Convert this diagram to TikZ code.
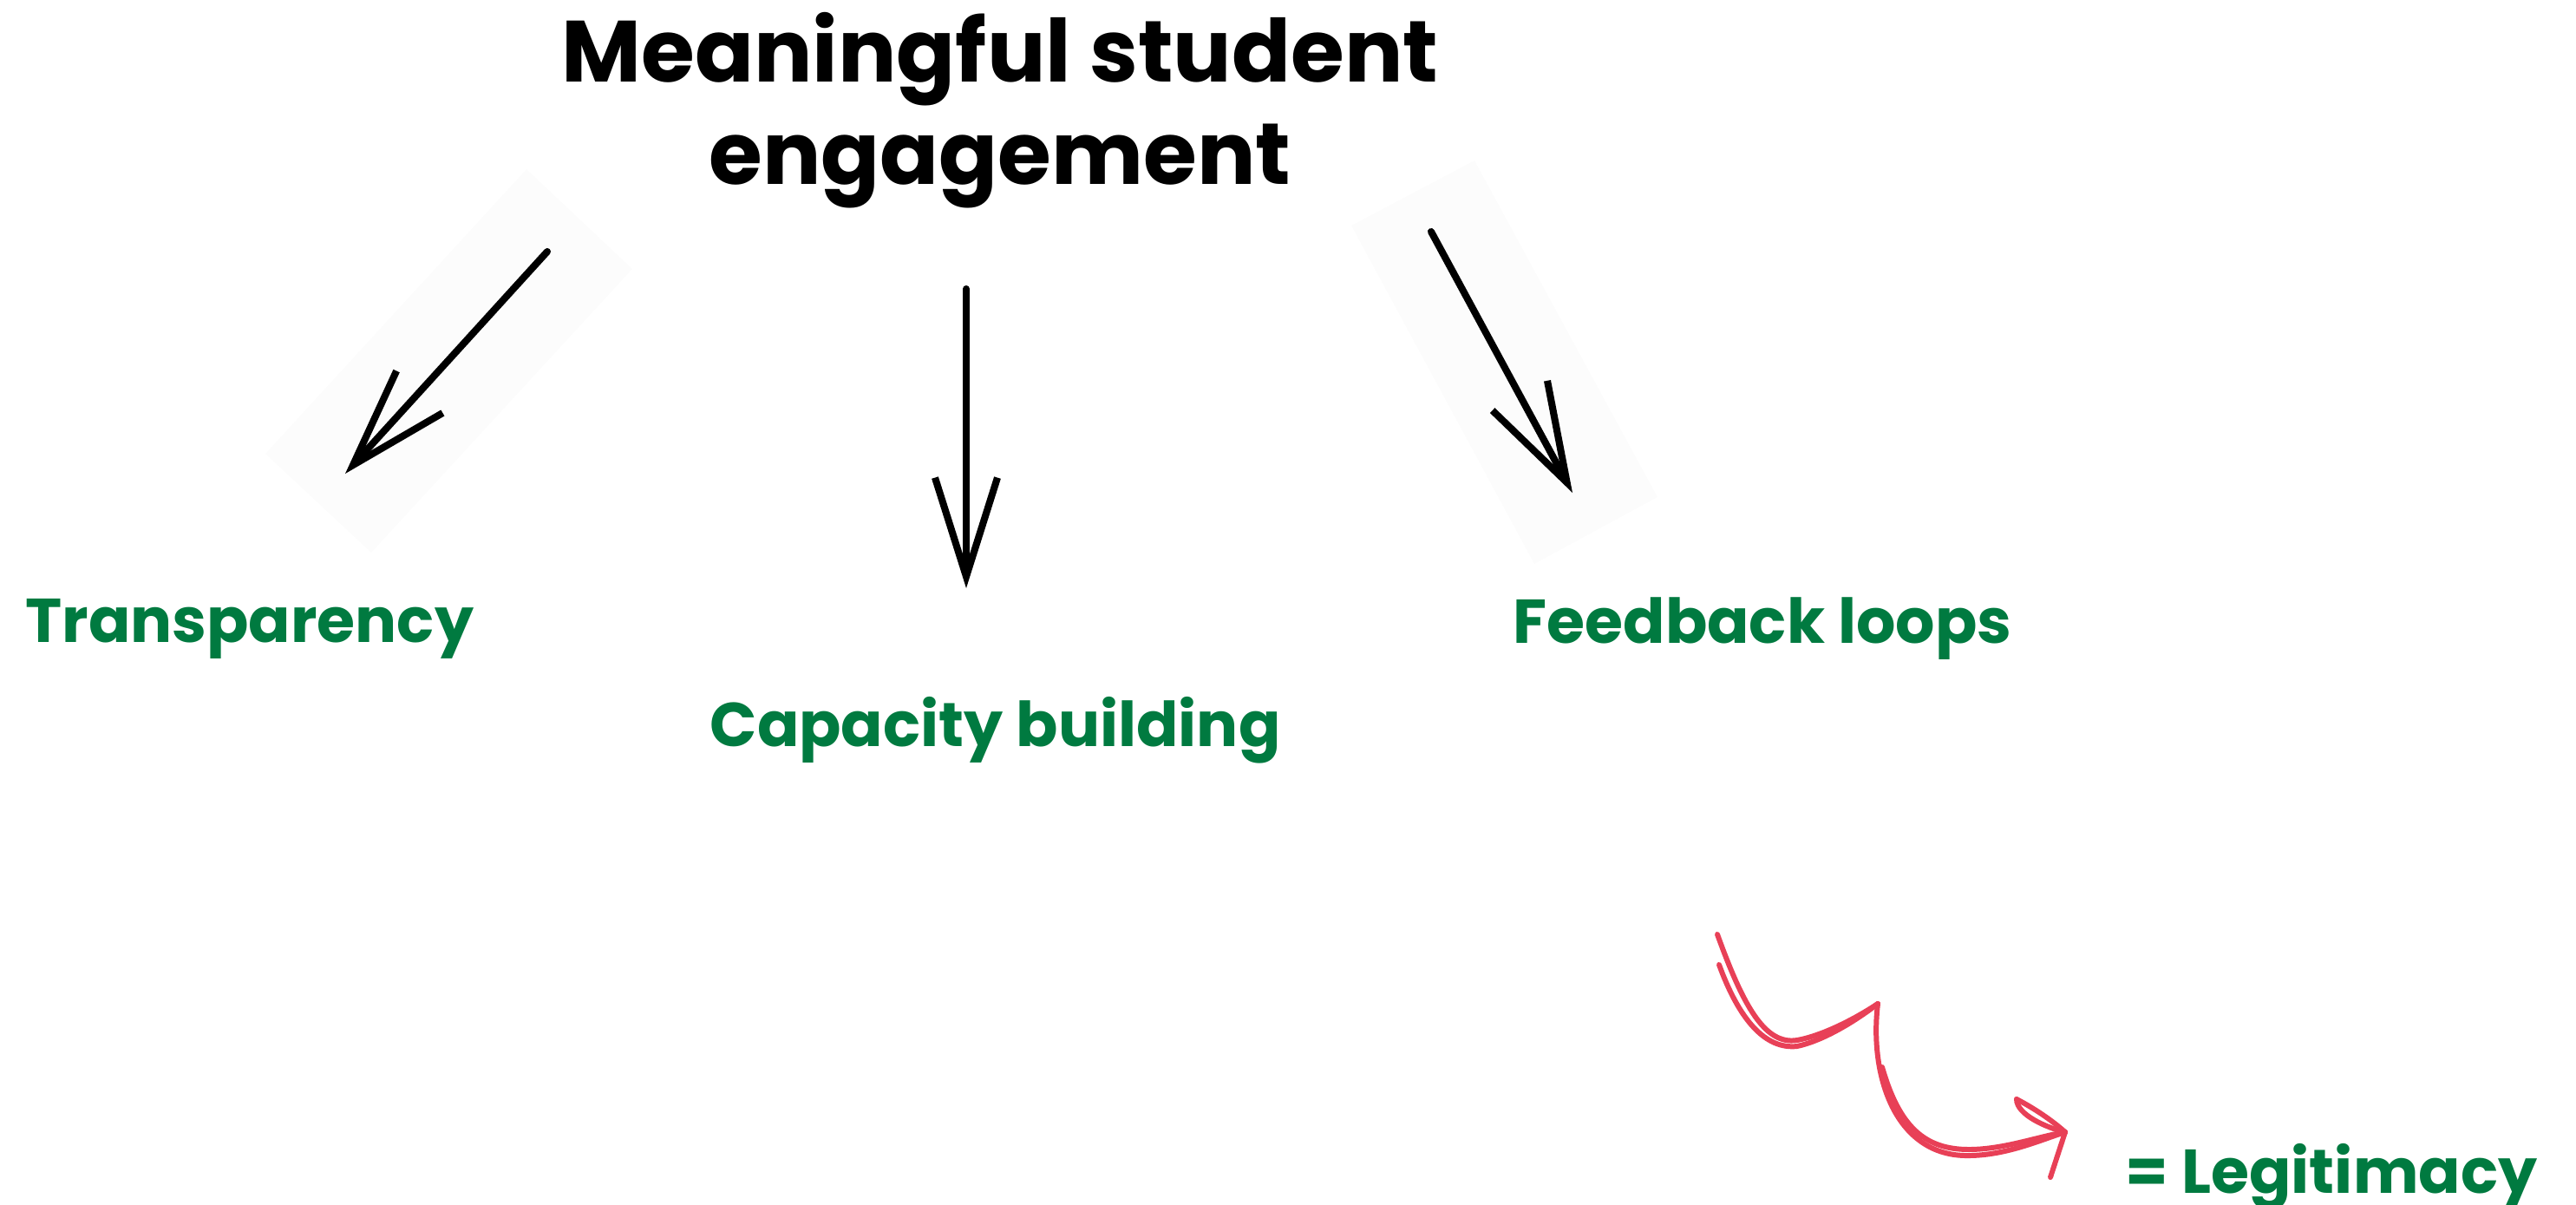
\documentclass[tikz,border=0pt]{standalone}
\usepackage{fontspec}
\setmainfont{Poppins}
\usepackage{xcolor}
\usepackage{tikz}
\usetikzlibrary{arrows.meta, positioning}

\definecolor{leafgreen}{RGB}{0,122,64}
\definecolor{markerred}{RGB}{232,64,87}

\begin{document}
\begin{tikzpicture}[
	title/.style={font=\fontsize{28.5}{33.4}\selectfont\bfseries, align=center, inner sep=0},
	outcome/.style={font=\fontsize{20.3}{24}\selectfont\bfseries, text=leafgreen, inner sep=0, anchor=base west},
	pointer/.style={-{Straight Barb[length=1.14cm, width=0.72cm]}, line width=2.3pt, line cap=round},
	scribble/.style={draw=markerred, line width=1.7pt, line cap=round}]
	\useasboundingbox (0,0) rectangle (29.70,-13.88);

	% faint patches behind the side arrows
	\fill[black!1] (6.07,-1.95) -- (7.29,-3.10) -- (4.28,-6.37) -- (3.06,-5.23) -- cycle;
	\fill[black!1] (17.00,-1.85) -- (15.58,-2.60) -- (17.69,-6.50) -- (19.11,-5.73) -- cycle;

	\node[title] (engage) at (11.53,-1.27) {Meaningful student\\engagement};

	\node[outcome] (transp) at (0.287,-7.40) {Transparency};
	\node[outcome] (capac) at (8.18,-8.60) {Capacity building};
	\node[outcome] (feedb) at (17.44,-7.41) {Feedback loops};
	\node[outcome] (legit) at (24.50,-13.75) {= Legitimacy};

	% arrow ends
	\coordinate (transpTail) at (6.31,-2.90);
	\coordinate (transpHead) at (3.98,-5.46);
	\coordinate (capacTail) at (11.14,-3.33);
	\coordinate (capacHead) at (11.14,-6.78);
	\coordinate (feedbTail) at (16.50,-2.67);
	\coordinate (feedbHead) at (18.13,-5.68);

	\draw[pointer] (transpTail) -- (transpHead);
	\draw[pointer] (capacTail) -- (capacHead);
	\draw[pointer] (feedbTail) -- (feedbHead);

	% hand drawn red arrow
	\coordinate (cusp) at (21.65,-11.57);
	\coordinate (tip) at (23.81,-13.05);
	\path[scribble] (19.80,-10.77) .. controls (20.10,-11.60) and (20.35,-12.05) .. (20.72,-11.99)
		.. controls (20.95,-11.95) and (21.30,-11.80) .. (cusp);
	\path[scribble] (19.82,-11.12) .. controls (20.05,-11.75) and (20.35,-12.10) .. (20.72,-12.06)
		.. controls (21.00,-12.00) and (21.35,-11.80) .. (cusp);
	\path[scribble] (cusp) .. controls (21.55,-12.40) and (21.85,-13.30) .. (22.65,-13.32)
		.. controls (23.10,-13.33) and (23.50,-13.15) .. (tip);
	\path[scribble] (21.70,-12.30) .. controls (21.90,-13.00) and (22.20,-13.25) .. (22.70,-13.25)
		.. controls (23.10,-13.25) and (23.50,-13.10) .. (tip);
	\path[scribble] (23.25,-12.67) .. controls (23.25,-12.85) and (23.60,-13.00) .. (tip);
	\path[scribble] (23.25,-12.67) .. controls (23.50,-12.80) and (23.70,-12.95) .. (tip);
	\path[scribble] (tip) -- (23.64,-13.57);
\end{tikzpicture}
\end{document}
